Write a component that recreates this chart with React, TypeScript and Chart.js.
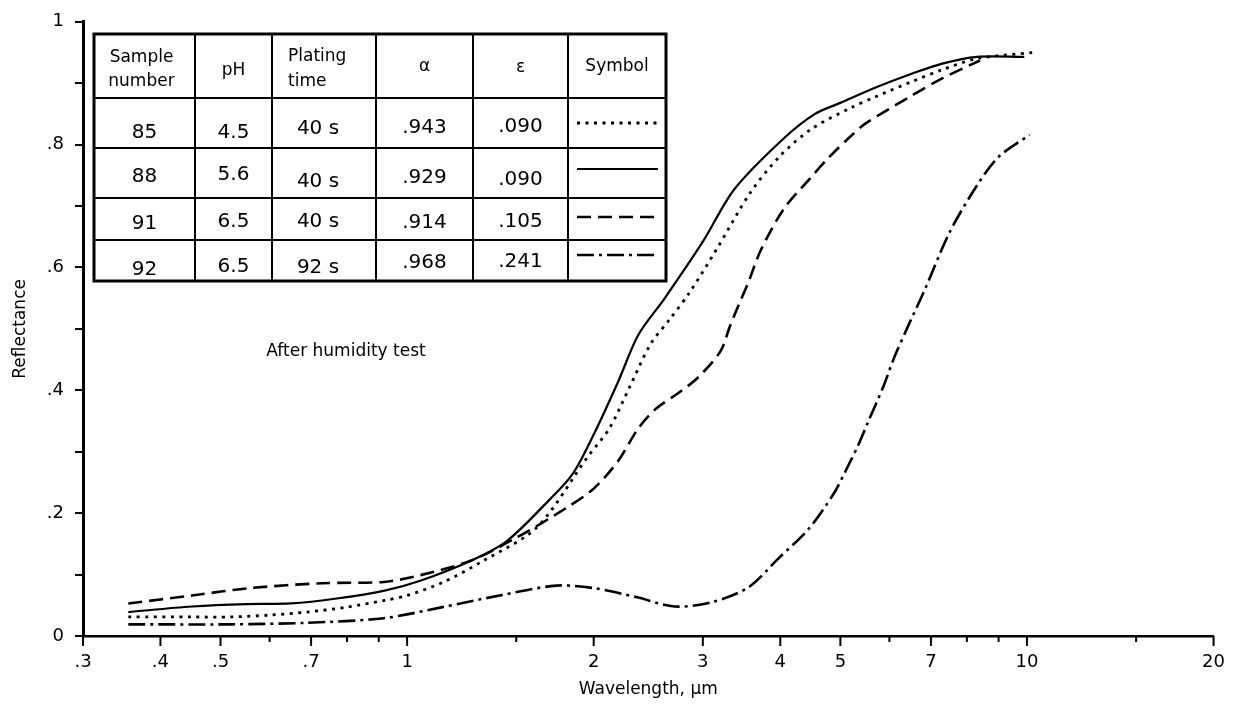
import React, { useEffect, useRef } from 'react';
import { Chart, registerables } from 'chart.js';

Chart.register(...registerables);

// ---------- data ----------
const W85 = [0.355, 0.45, 0.52, 0.6, 0.69, 0.8, 0.92, 1.0, 1.14, 1.33, 1.62, 1.95, 2.12, 2.28, 2.47, 2.65, 2.85, 3.15, 3.58, 4.0, 4.5, 5.2, 5.7, 6.5, 7.3, 8.3, 10.2];
const R85 = [0.031, 0.031, 0.031, 0.034, 0.039, 0.047, 0.058, 0.066, 0.087, 0.123, 0.177, 0.29, 0.338, 0.403, 0.475, 0.515, 0.558, 0.628, 0.722, 0.782, 0.826, 0.86, 0.878, 0.902, 0.922, 0.94, 0.95];

const W88 = [0.355, 0.45, 0.55, 0.65, 0.77, 0.92, 1.05, 1.27, 1.45, 1.69, 1.85, 2.0, 2.19, 2.36, 2.6, 3.0, 3.37, 4.03, 4.55, 5.0, 5.7, 6.5, 7.3, 8.3, 9.9];
const R88 = [0.039, 0.048, 0.052, 0.053, 0.061, 0.074, 0.09, 0.123, 0.155, 0.22, 0.264, 0.328, 0.414, 0.49, 0.549, 0.642, 0.727, 0.808, 0.85, 0.868, 0.893, 0.915, 0.932, 0.943, 0.943];

const W91 = [0.355, 0.45, 0.558, 0.73, 0.917, 1.05, 1.27, 1.5, 1.81, 2.0, 2.19, 2.36, 2.52, 2.76, 2.94, 3.2, 3.32, 3.43, 3.55, 3.72, 4.05, 4.45, 4.8, 5.2, 5.5, 6.5, 7.3, 8.4];
const R91 = [0.053, 0.066, 0.078, 0.086, 0.088, 0.099, 0.123, 0.16, 0.209, 0.24, 0.285, 0.338, 0.37, 0.398, 0.42, 0.463, 0.505, 0.54, 0.575, 0.628, 0.695, 0.743, 0.78, 0.814, 0.835, 0.879, 0.908, 0.937];

const W92 = [0.355, 0.52, 0.69, 0.917, 1.14, 1.41, 1.74, 2.0, 2.35, 2.7, 3.1, 3.55, 3.97, 4.45, 4.88, 5.1, 5.35, 5.55, 5.86, 6.1, 6.4, 6.85, 7.5, 8.3, 9.0, 10.1];
const R92 = [0.019, 0.019, 0.0215, 0.029, 0.047, 0.066, 0.082, 0.078, 0.063, 0.048, 0.055, 0.079, 0.126, 0.175, 0.232, 0.269, 0.312, 0.35, 0.405, 0.452, 0.5, 0.565, 0.657, 0.733, 0.78, 0.816];

const X_TICKS = [0.3, 0.4, 0.5, 0.6, 0.7, 0.8, 0.9, 1, 1.5, 2, 3, 4, 5, 6, 7, 8, 9, 10, 15, 20];
const X_LABELS = [0.3, 0.4, 0.5, 0.7, 1, 2, 3, 4, 5, 7, 10, 20];

const TABLE_HEAD = ['Sample\nnumber', 'pH', 'Plating\ntime', 'α', 'ε', 'Symbol'];
const SAMPLE = ['85', '88', '91', '92'];
const PH = ['4.5', '5.6', '6.5', '6.5'];
const TIME = ['40 s', '40 s', '40 s', '92 s'];
const ALPHA = ['.943', '.929', '.914', '.968'];
const EPS = ['.090', '.090', '.105', '.241'];

const NOTE = 'After humidity test';
const X_TITLE = 'Wavelength, μm';
const Y_TITLE = 'Reflectance';

// ---------- styles ----------
const FONT = '"DejaVu Sans", "Liberation Sans", sans-serif';
const DASHES: number[][] = [[3, 5.5], [], [14, 7], [17, 5, 3, 5]];
const WIDTHS = [2.8, 2.2, 2.6, 2.6];

// table geometry (pixels)
const COL_X = [94, 195, 272, 376, 473, 568, 666];
const ROW_Y = [34, 98, 148, 198, 240, 281];
const CELL_Y = [
  [133, 133, 129, 128, 127],
  [177, 175, 182, 178, 180],
  [224, 222, 222, 223, 222],
  [270, 267, 268, 263, 262],
];
const SYMBOL_Y = [123, 169, 217, 255];

const fmtX = (v: number) => {
  if (!X_LABELS.includes(v)) return '';
  if (v < 1) return '.' + Math.round(v * 10);
  return String(v);
};

const tablePlugin = {
  id: 'tableNotes',
  afterDraw(chart: any) {
    const ctx: CanvasRenderingContext2D = chart.ctx;
    const xs = chart.scales.x;
    const yb = chart.chartArea.bottom;
    ctx.save();
    // x tick marks (major longer than minor)
    ctx.strokeStyle = '#000';
    ctx.lineWidth = 2;
    ctx.setLineDash([]);
    X_TICKS.forEach((v) => {
      const px = xs.getPixelForValue(v);
      const len = X_LABELS.includes(v) ? 10 : 6;
      ctx.beginPath();
      ctx.moveTo(px, yb);
      ctx.lineTo(px, yb + len);
      ctx.stroke();
    });

    // annotation
    ctx.fillStyle = '#000';
    ctx.font = `17px ${FONT}`;
    ctx.textAlign = 'center';
    ctx.textBaseline = 'middle';
    ctx.fillText(NOTE, 346, 352);

    // table background
    const L = COL_X[0], R = COL_X[COL_X.length - 1], T = ROW_Y[0], B = ROW_Y[ROW_Y.length - 1];
    ctx.fillStyle = '#fff';
    ctx.fillRect(L, T, R - L, B - T);
    ctx.strokeStyle = '#000';
    ctx.lineWidth = 2;
    for (let i = 1; i < COL_X.length - 1; i++) {
      ctx.beginPath();
      ctx.moveTo(COL_X[i], T);
      ctx.lineTo(COL_X[i], B);
      ctx.stroke();
    }
    for (let j = 1; j < ROW_Y.length - 1; j++) {
      ctx.beginPath();
      ctx.moveTo(L, ROW_Y[j]);
      ctx.lineTo(R, ROW_Y[j]);
      ctx.stroke();
    }
    ctx.lineWidth = 3;
    ctx.strokeRect(L, T, R - L, B - T);

    // header
    ctx.fillStyle = '#000';
    ctx.font = `17px ${FONT}`;
    ctx.textBaseline = 'middle';
    const headY = [[58, 82], [71], [57, 82], [67], [68], [67]];
    TABLE_HEAD.forEach((h, i) => {
      const lines = h.split('\n');
      const cx = (COL_X[i] + COL_X[i + 1]) / 2;
      if (i === 2) {
        ctx.textAlign = 'left';
        lines.forEach((ln, k) => ctx.fillText(ln, 288, headY[i][k]));
      } else {
        ctx.textAlign = 'center';
        lines.forEach((ln, k) => ctx.fillText(ln, i === 0 ? cx - 3 : cx, headY[i][k]));
      }
    });

    // body
    ctx.font = `20px ${FONT}`;
    ctx.textAlign = 'center';
    const cols = [SAMPLE, PH, TIME, ALPHA, EPS];
    for (let r = 0; r < SAMPLE.length; r++) {
      cols.forEach((col, c) => {
        const cx = (COL_X[c] + COL_X[c + 1]) / 2 + (c === 2 ? -6 : 0);
        ctx.fillText(col[r], cx, CELL_Y[r][c]);
      });
      // symbol
      ctx.save();
      ctx.lineWidth = WIDTHS[r];
      ctx.setLineDash(DASHES[r]);
      ctx.beginPath();
      ctx.moveTo(577, SYMBOL_Y[r]);
      ctx.lineTo(658, SYMBOL_Y[r]);
      ctx.stroke();
      ctx.restore();
    }
    ctx.restore();
  },
};

const toPts = (xs: number[], ys: number[]) => xs.map((x, i) => ({ x, y: ys[i] }));

export default function App() {
  const ref = useRef<HTMLCanvasElement | null>(null);

  useEffect(() => {
    if (!ref.current) return;
    const series = [
      { label: '85', data: toPts(W85, R85) },
      { label: '88', data: toPts(W88, R88) },
      { label: '91', data: toPts(W91, R91) },
      { label: '92', data: toPts(W92, R92) },
    ];
    const chart = new Chart(ref.current, {
      type: 'line',
      data: {
        datasets: series.map((s, i) => ({
          label: s.label,
          data: s.data,
          borderColor: '#000',
          backgroundColor: '#000',
          borderWidth: WIDTHS[i],
          borderDash: DASHES[i],
          borderCapStyle: 'butt',
          pointRadius: 0,
          fill: false,
          tension: 0.3,
        })),
      },
      options: {
        responsive: false,
        animation: false,
        devicePixelRatio: 1,
        layout: { padding: { top: 18, right: 24, left: 0, bottom: 0 } },
        plugins: { legend: { display: false }, tooltip: { enabled: false } },
        scales: {
          x: {
            type: 'logarithmic',
            min: 0.3,
            max: 20,
            afterBuildTicks: (s: any) => {
              s.ticks = X_TICKS.map((v) => ({ value: v }));
            },
            afterFit: (s: any) => {
              s.height = 68;
            },
            ticks: {
              autoSkip: false,
              maxRotation: 0,
              minRotation: 0,
              padding: 16,
              color: '#000',
              font: { family: FONT, size: 18 },
              callback: (v: any) => fmtX(Number(v)),
            },
            grid: { display: true, drawOnChartArea: false, drawTicks: false },
            border: { display: true, color: '#000', width: 2.5 },
            title: {
              display: true,
              text: X_TITLE,
              color: '#000',
              font: { family: FONT, size: 17 },
              padding: { top: 0, bottom: 4 },
            },
          },
          y: {
            type: 'linear',
            min: 0,
            max: 1,
            afterFit: (s: any) => {
              s.width = 83;
            },
            ticks: {
              stepSize: 0.1,
              padding: 11,
              color: '#000',
              font: { family: FONT, size: 18 },
              callback: (v: any) => {
                const r = Math.round(Number(v) * 10);
                if (r % 2 !== 0) return '';
                if (r === 0) return '0';
                if (r === 10) return '1';
                return '.' + r;
              },
            },
            grid: { display: true, drawOnChartArea: false, drawTicks: true, tickLength: 8, color: '#000', lineWidth: 2 },
            border: { display: true, color: '#000', width: 3 },
            title: {
              display: true,
              text: Y_TITLE,
              color: '#000',
              font: { family: FONT, size: 17 },
              padding: { top: 10, bottom: 0 },
            },
          },
        },
      },
      plugins: [tablePlugin],
    } as any);
    return () => chart.destroy();
  }, []);

  return (
    <div style={{ position: 'absolute', left: 0, top: 0, width: 1241, height: 704, background: '#fff' }}>
      <canvas ref={ref} width={1241} height={704} style={{ display: 'block' }} />
    </div>
  );
}
